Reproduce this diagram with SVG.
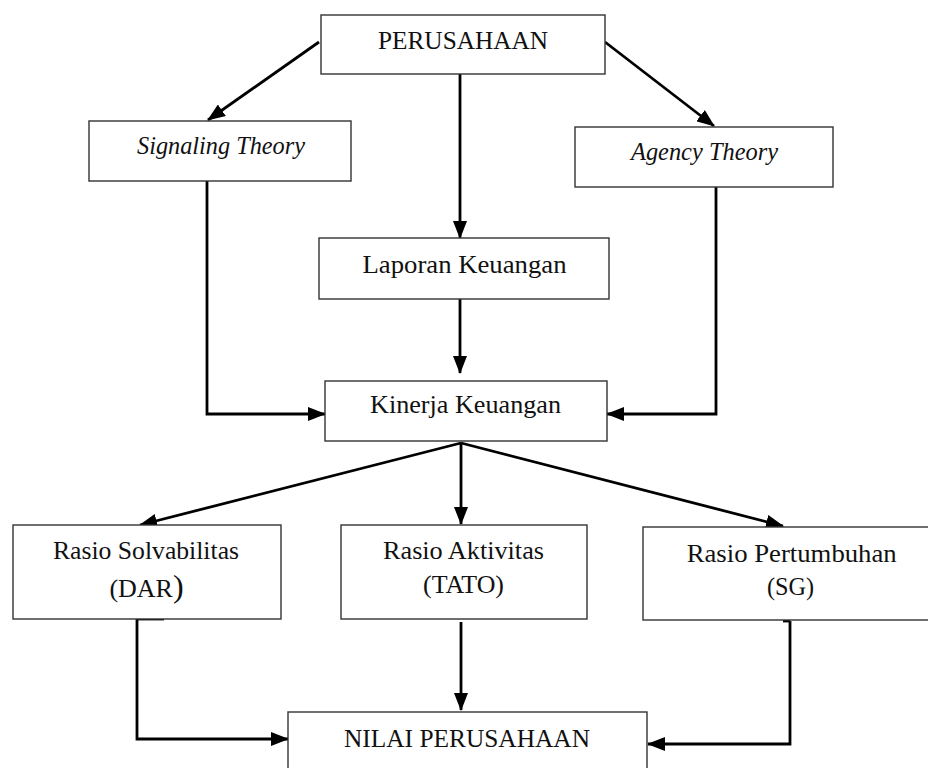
<svg xmlns="http://www.w3.org/2000/svg" width="928" height="768" viewBox="0 0 928 768">
<style>
.box{fill:#fff;stroke:#333;stroke-width:1.4}
.t{font-family:"Liberation Serif","Times New Roman",serif;font-size:26px;fill:#111;text-anchor:middle}
.i{font-style:italic}
.c{fill:none;stroke:#000;stroke-width:2.8;marker-end:url(#ah)}
.s{fill:none;stroke:#000;stroke-width:2.8}
</style>
<defs>
<marker id="ah" viewBox="0 0 18 14" refX="17" refY="7" markerWidth="18" markerHeight="14" markerUnits="userSpaceOnUse" orient="auto">
<path d="M0,0 L18,7 L0,14 z" fill="#000"/>
</marker>
</defs>
<rect width="928" height="768" fill="#fff"/>
<g id="connectors">
<path class="c" d="M319,42 L208,120"/>
<path class="c" d="M605,42 L714,126"/>
<path class="c" d="M460,74 V238"/>
<path class="c" d="M460,299 V373"/>
<path class="c" d="M207,181 V414 H325"/>
<path class="c" d="M716,187 V414 H607"/>
<path class="c" d="M461,443 L140,525"/>
<path class="c" d="M461,443 V524"/>
<path class="c" d="M461,443 L783,526"/>
<path class="s" d="M164,619 H137"/>
<path class="c" d="M137,619 V739 H288"/>
<path class="c" d="M461,622 V710"/>
<path class="s" d="M783,621 H790"/>
<path class="c" d="M790,621 V744 H648"/>
</g>
<g id="perusahaan">
<rect class="box" x="321" y="15" width="284" height="59"/>
<text class="t" x="463" y="49" textLength="170" lengthAdjust="spacingAndGlyphs">PERUSAHAAN</text>
</g>
<g id="signaling">
<rect class="box" x="89" y="121" width="262" height="60"/>
<text class="t i" x="221" y="154" textLength="168" lengthAdjust="spacingAndGlyphs">Signaling Theory</text>
</g>
<g id="agency">
<rect class="box" x="575" y="127" width="258" height="60"/>
<text class="t i" x="704.5" y="160" textLength="147" lengthAdjust="spacingAndGlyphs">Agency Theory</text>
</g>
<g id="laporan">
<rect class="box" x="319" y="238" width="290" height="61"/>
<text class="t" x="464.5" y="273" textLength="204" lengthAdjust="spacingAndGlyphs">Laporan Keuangan</text>
</g>
<g id="kinerja">
<rect class="box" x="325" y="381" width="282" height="60"/>
<text class="t" x="465.5" y="413" textLength="191" lengthAdjust="spacingAndGlyphs">Kinerja Keuangan</text>
</g>
<g id="solvabilitas">
<rect class="box" x="13" y="525" width="268" height="94"/>
<text class="t" x="146" y="559" textLength="186" lengthAdjust="spacingAndGlyphs">Rasio Solvabilitas</text>
<text class="t" x="146.5" y="597">(DAR<tspan font-size="32">)</tspan></text>
</g>
<g id="aktivitas">
<rect class="box" x="341" y="525" width="246" height="94"/>
<text class="t" x="463.5" y="559" textLength="161" lengthAdjust="spacingAndGlyphs">Rasio Aktivitas</text>
<text class="t" x="463.5" y="593" textLength="81" lengthAdjust="spacingAndGlyphs">(TATO)</text>
</g>
<g id="pertumbuhan">
<rect class="box" x="643" y="527" width="300" height="93"/>
<text class="t" x="791.7" y="561.5" textLength="210" lengthAdjust="spacingAndGlyphs">Rasio Pertumbuhan</text>
<text class="t" x="790.5" y="595" textLength="47" lengthAdjust="spacingAndGlyphs">(SG)</text>
</g>
<g id="nilai">
<rect class="box" x="288" y="712" width="359" height="70"/>
<text class="t" x="467" y="747" textLength="246" lengthAdjust="spacingAndGlyphs">NILAI PERUSAHAAN</text>
</g>
</svg>
